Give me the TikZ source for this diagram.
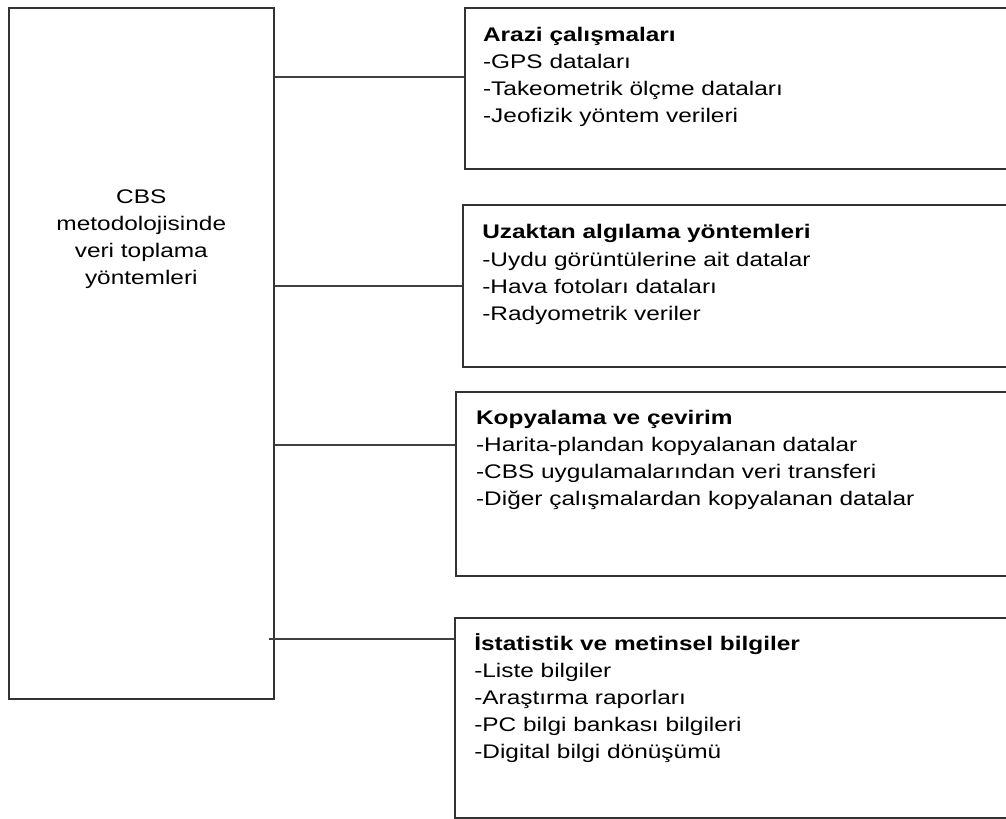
\documentclass[tikz,border=0pt]{standalone}
\usepackage{fontspec}
\setmainfont{Liberation Sans}[FakeStretch=1.24]
\usepackage{tikz}
\usetikzlibrary{positioning}

\tikzset{
    kutu/.style={draw=black!80, line width=1.1pt, fill=white, inner sep=0pt, anchor=north west},
    yazi/.style={align=left, inner sep=0pt, anchor=north west, font=\fontsize{14}{19.3}\selectfont},
    baglanti/.style={draw=black!75, line width=1.1pt}
}

\begin{document}
\begin{tikzpicture}[x=0.025cm, y=-0.025cm]

\useasboundingbox (0,0) rectangle (1006,819);

% Ana kutu
\node[
    kutu,
    minimum width=6.625cm,
    minimum height=17.275cm
] (cbs) at (8,7) {};
\node[yazi, align=center, below=4.55cm of cbs.north] (cbsT)
    {CBS\\metodolojisinde\\veri toplama\\yöntemleri};

% Arazi çalışmaları
\node[
    kutu,
    minimum width=14.2cm,
    minimum height=4.025cm
] (arazi) at (464,7) {};
\node[yazi, below right=0.49cm and 0.47cm of arazi.north west] (araziT)
    {\textbf{Arazi çalışmaları}\\-GPS dataları\\-Takeometrik ölçme dataları\\-Jeofizik yöntem verileri};

% Uzaktan algılama
\node[
    kutu,
    minimum width=14.2cm,
    minimum height=4.05cm
] (uzak) at (462,204) {};
\node[yazi, below right=0.51cm and 0.5cm of uzak.north west] (uzakT)
    {\textbf{Uzaktan algılama yöntemleri}\\-Uydu görüntülerine ait datalar\\-Hava fotoları dataları\\-Radyometrik veriler};

% Kopyalama
\node[
    kutu,
    minimum width=14.4cm,
    minimum height=4.6cm
] (kopya) at (455,391) {};
\node[yazi, below right=0.47cm and 0.52cm of kopya.north west] (kopyaT)
    {\textbf{Kopyalama ve çevirim}\\-Harita-plandan kopyalanan datalar\\-CBS uygulamalarından veri transferi\\-Diğer çalışmalardan kopyalanan datalar};

% İstatistik
\node[
    kutu,
    minimum width=14.4cm,
    minimum height=5cm
] (istat) at (454,617) {};
\node[yazi, below right=0.4cm and 0.5cm of istat.north west] (istatT)
    {\textbf{İstatistik ve metinsel bilgiler}\\-Liste bilgiler\\-Araştırma raporları\\-PC bilgi bankası bilgileri\\-Digital bilgi dönüşümü};

% Bağlantılar
\coordinate (j1) at ([yshift=-1.75cm]arazi.north west);
\coordinate (j2) at ([yshift=-2.05cm]uzak.north west);
\coordinate (j3) at ([yshift=-1.35cm]kopya.north west);
\coordinate (j4) at ([yshift=-0.55cm]istat.north west);

\draw[baglanti] (cbs.east |- j1) -- (j1);
\draw[baglanti] (cbs.east |- j2) -- (j2);
\draw[baglanti] (cbs.east |- j3) -- (j3);
\draw[baglanti] ([xshift=-0.15cm]cbs.east |- j4) -- (j4);

\end{tikzpicture}
\end{document}
